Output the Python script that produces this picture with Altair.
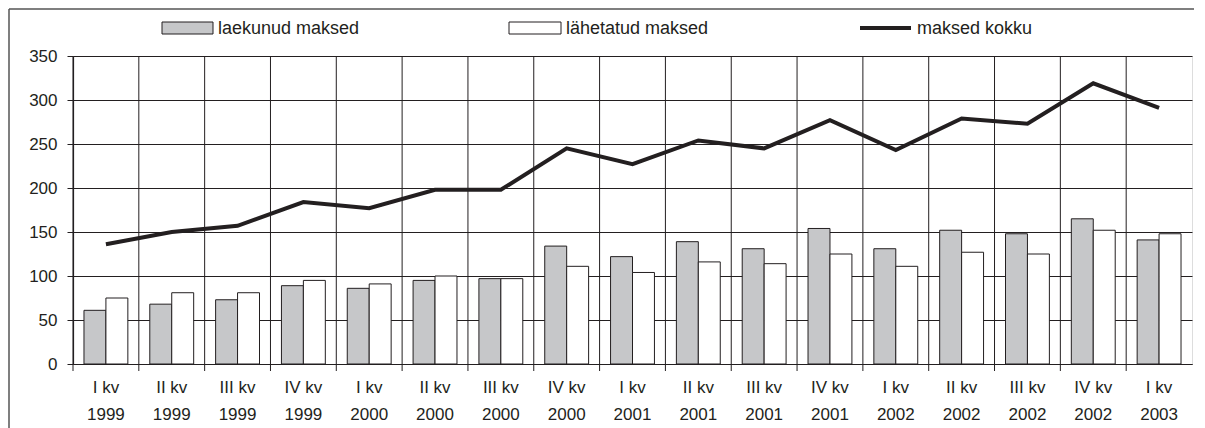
import altair as alt
import pandas as pd

QUARTERS = ["I kv", "II kv", "III kv", "IV kv", "I kv", "II kv", "III kv", "IV kv",
            "I kv", "II kv", "III kv", "IV kv", "I kv", "II kv", "III kv", "IV kv", "I kv"]
YEARS = ["1999", "1999", "1999", "1999", "2000", "2000", "2000", "2000",
         "2001", "2001", "2001", "2001", "2002", "2002", "2002", "2002", "2003"]
LAEKUNUD = [61, 68, 73, 89, 86, 95, 97, 134, 122, 139, 131, 154, 131, 152, 148, 165, 141]
LAHETATUD = [75, 81, 81, 95, 91, 100, 97, 111, 104, 116, 114, 125, 111, 127, 125, 152, 148]
KOKKU = [136, 150, 157, 184, 177, 198, 198, 245, 227, 254, 245, 277, 243, 279, 273, 319, 291]
SERIES = ["laekunud maksed", "lähetatud maksed", "maksed kokku"]
Y_TICKS = [0, 50, 100, 150, 200, 250, 300, 350]

FONT = "Liberation Sans"
INK = "#231f20"
GRAY = "#c6c7c9"

cats = [f"{q}|{y}" for q, y in zip(QUARTERS, YEARS)]

bars = pd.DataFrame(
    [{"cat": c, "series": SERIES[0], "value": v} for c, v in zip(cats, LAEKUNUD)]
    + [{"cat": c, "series": SERIES[1], "value": v} for c, v in zip(cats, LAHETATUD)]
)
line = pd.DataFrame({"cat": cats, "value": KOKKU})
cat_df = pd.DataFrame({"cat": cats})

W, H = 1119, 308

xscale = alt.Scale(domain=cats, paddingInner=0, paddingOuter=0)
yscale = alt.Scale(domain=[0, 350], nice=False)

x_axis = alt.Axis(
    title=None, labelExpr="split(datum.label, '|')", labelAngle=0,
    labelFontSize=17, labelFont=FONT, labelColor=INK, labelLineHeight=27,
    ticks=False, grid=False, domainColor=INK, domainWidth=1.2,
    labelPadding=15,
)
y_axis = alt.Axis(
    title=None, values=Y_TICKS, grid=True, gridColor=INK, gridWidth=1,
    tickColor=INK, tickSize=6, domainColor=INK, domainWidth=1.2,
    labelFontSize=17, labelFont=FONT, labelColor=INK, labelPadding=10,
)

vrules = alt.Chart(cat_df).mark_rule(color=INK, strokeWidth=1).encode(
    x=alt.X("cat:N", scale=xscale, sort=cats, bandPosition=0, axis=x_axis),
    y=alt.value(0),
    y2=alt.value(H + 7),
)

bar_layer = alt.Chart(bars).mark_bar(stroke=INK, strokeWidth=1).encode(
    x=alt.X("cat:N", scale=xscale, sort=cats, axis=x_axis),
    xOffset=alt.XOffset("series:N", sort=SERIES[:2],
                        scale=alt.Scale(paddingInner=0, paddingOuter=0.5)),
    y=alt.Y("value:Q", scale=yscale, axis=y_axis),
    fill=alt.Fill("series:N", scale=alt.Scale(domain=SERIES[:2], range=[GRAY, "white"]),
                  legend=None),
)

line_layer = alt.Chart(line).mark_line(color=INK, strokeWidth=4).encode(
    x=alt.X("cat:N", scale=xscale, sort=cats, axis=x_axis),
    y=alt.Y("value:Q", scale=yscale, axis=y_axis),
)

# manual legend
def one(label):
    return alt.Data(values=[{"label": label}])

sw1 = alt.Chart(one(SERIES[0])).mark_rect(fill=GRAY, stroke=INK, strokeWidth=1).encode(
    x=alt.value(89), x2=alt.value(140), y=alt.value(-34), y2=alt.value(-22))
sw2 = alt.Chart(one(SERIES[1])).mark_rect(fill="white", stroke=INK, strokeWidth=1).encode(
    x=alt.value(436), x2=alt.value(488), y=alt.value(-34), y2=alt.value(-22))
sw3 = alt.Chart(one(SERIES[2])).mark_rule(color=INK, strokeWidth=4).encode(
    x=alt.value(787), x2=alt.value(838), y=alt.value(-28))

def legend_text(label, x):
    return alt.Chart(one(label)).mark_text(
        align="left", baseline="middle", font=FONT, fontSize=18, color=INK
    ).encode(x=alt.value(x), y=alt.value(-27.5), text="label:N")

t1 = legend_text(SERIES[0], 145)
t2 = legend_text(SERIES[1], 493)
t3 = legend_text(SERIES[2], 844)

# outer frame (top and left edges)
frame_top = alt.Chart(one("f")).mark_rule(color="#555555", strokeWidth=1.5).encode(
    x=alt.value(-64), x2=alt.value(1121), y=alt.value(-47))
frame_left = alt.Chart(one("f")).mark_rule(color="#555555", strokeWidth=1.5).encode(
    x=alt.value(-64), y=alt.value(-47), y2=alt.value(H + 80))

chart = alt.layer(
    vrules, bar_layer, line_layer, sw1, sw2, sw3, t1, t2, t3, frame_top, frame_left
).properties(
    width=W, height=H,
    autosize=alt.AutoSizeParams(type="none"),
    padding={"left": 65, "top": 48, "right": 5, "bottom": 68},
).configure_view(
    stroke=INK, strokeWidth=1.2,
).configure(background="white")

chart.save("out.html", embed_options={"renderer": "svg", "actions": False})
